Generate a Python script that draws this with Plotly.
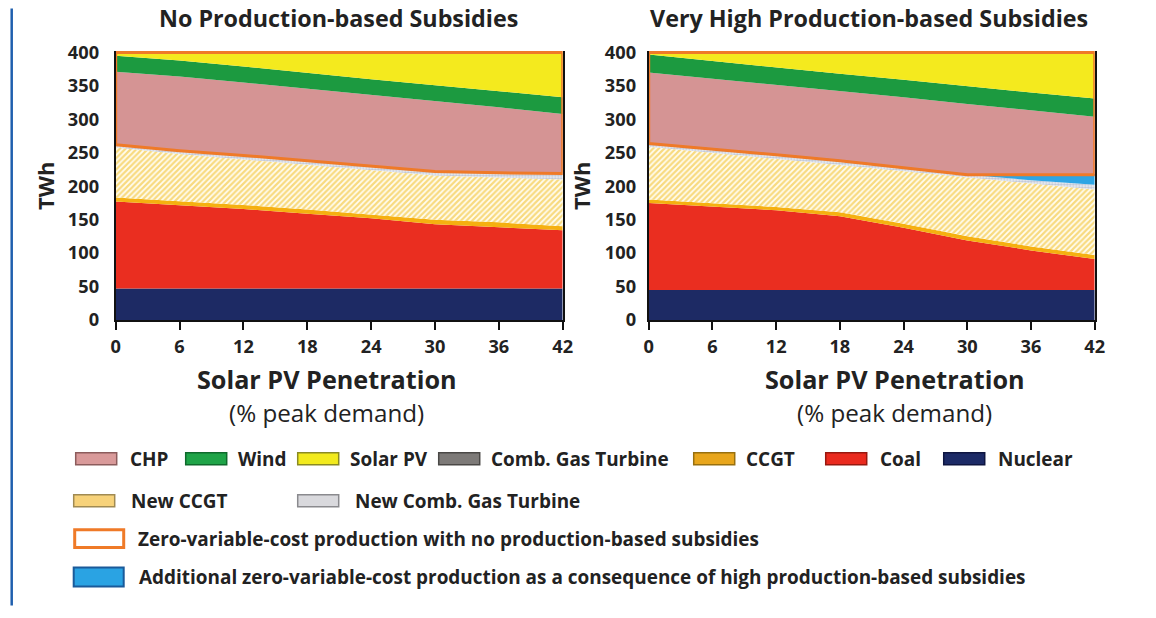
import numpy as np
import plotly.graph_objects as go

# Solar PV penetration (% of peak demand)
pv_pen = [0, 6, 12, 18, 24, 30, 36, 42]

# Generation by technology (TWh), stacked bottom to top
# -- No production-based subsidies
nuc_no = [47, 47, 47, 47, 47, 47, 47, 47]
coal_no = [130, 125, 119, 112, 105, 96, 92, 87]
ccgt_no = [6, 6, 6, 6, 6, 7, 7, 6]
cgt_no = [0, 0, 0, 0, 0, 0, 0, 0]
newccgt_no = [75, 70, 68, 67, 66, 66, 67, 70]
newcgt_no = [4, 5, 6, 6, 7, 6, 7, 9]
chp_no = [109, 111, 109, 108, 105, 105, 98, 89]
wind_no = [24, 24, 24, 23, 24, 24, 24, 25]
solar_no = [5, 12, 21, 31, 40, 49, 58, 67]

# -- Very high production-based subsidies
nuc_hi = [45, 45, 45, 45, 45, 45, 45, 45]
coal_hi = [130, 125, 119, 110, 93, 74, 59, 46]
ccgt_hi = [5, 5, 5, 6, 6, 6, 6, 6]
cgt_hi = [0, 0, 0, 0, 0, 0, 0, 0]
newccgt_hi = [79, 75, 72, 71, 78, 88, 94, 98]
newcgt_hi = [5, 6, 6, 6, 6, 4, 5, 7]
extra_zvc_hi = [0, 0, 0, 0, 0, 0, 8, 15]
chp_hi = [106, 105, 105, 104, 105, 106, 97, 87]
wind_hi = [27, 26, 26, 26, 26, 26, 26, 27]
solar_hi = [3, 13, 22, 32, 41, 51, 60, 69]

x_ticks = [0, 6, 12, 18, 24, 30, 36, 42]
y_ticks = [0, 50, 100, 150, 200, 250, 300, 350, 400]

COL = {
    "Nuclear": "#1d2a64",
    "Coal": "#ea2e20",
    "CCGT": "#f5b010",
    "Comb. Gas Turbine": "#7b7876",
    "New CCGT": "#f3c53a",
    "New Comb. Gas Turbine": "#c3c9d6",
    "Extra": "#2ea5e4",
    "CHP": "#d59494",
    "Wind": "#1c9a40",
    "Solar PV": "#f4ea1e",
    "Outline": "#ef7a28",
}

W, H = 1156, 618
FONT = "Open Sans"

# page-pixel -> figure-pixel mapping used for all placements
SX, OX = 0.987, 4.3
SY, OY = 0.966, 10.5


def lx(p):
    return (p - OX) / SX


def ly(p):
    return (p - OY) / SY


def fx(p):
    return lx(p) / W


def fy(p):
    return 1 - ly(p) / H


fig = go.Figure()


def add_panel(xa, ya, group, layers, extra=None):
    names = ["Nuclear", "Coal", "CCGT", "Comb. Gas Turbine", "New CCGT",
             "New Comb. Gas Turbine"]
    stack = list(zip(names, layers[:6]))
    if extra is not None:
        stack.append(("Extra", extra))
    stack += [("CHP", layers[6]), ("Wind", layers[7]), ("Solar PV", layers[8])]
    for name, v in stack:
        kw = dict(fillcolor=COL[name])
        if name == "New CCGT":
            kw = dict(fillcolor="#ffffff",
                      fillpattern=dict(shape="/", fgcolor="#f1b70c",
                                       bgcolor="#fffdf2", size=4,
                                       solidity=0.55))
        elif name == "New Comb. Gas Turbine":
            kw = dict(fillcolor="#ffffff",
                      fillpattern=dict(shape=".", fgcolor="#8e9ab4",
                                       bgcolor="#eef0f5", size=3,
                                       solidity=0.5))
        line = dict(width=0)
        if name == "Extra":
            line = dict(width=1.5, color="#1a5fa6")
        fig.add_trace(go.Scatter(
            x=pv_pen, y=v, stackgroup=group, mode="lines", line=line,
            name=name, showlegend=False, xaxis=xa, yaxis=ya, hoverinfo="skip",
            **kw))
    # outline of the zero-variable-cost region
    lower = [v for n, v in stack if n not in ("CHP", "Wind", "Solar PV")]
    base = np.sum(np.array(lower), axis=0)
    total = np.sum(np.array([v for _, v in stack]), axis=0)
    ox = list(pv_pen) + list(pv_pen[::-1]) + [pv_pen[0]]
    oy = list(base) + list(total[::-1]) + [base[0]]
    fig.add_trace(go.Scatter(
        x=ox, y=oy, mode="lines", line=dict(color=COL["Outline"], width=3),
        showlegend=False, xaxis=xa, yaxis=ya, hoverinfo="skip"))


add_panel("x", "y", "no",
          [nuc_no, coal_no, ccgt_no, cgt_no, newccgt_no, newcgt_no,
           chp_no, wind_no, solar_no])
add_panel("x2", "y2", "hi",
          [nuc_hi, coal_hi, ccgt_hi, cgt_hi, newccgt_hi, newcgt_hi,
           chp_hi, wind_hi, solar_hi], extra=extra_zvc_hi)

# plot area: value 0 sits at y=320, value 400 at y=52; range padded to 402
y_zero, y_400 = ly(320), ly(52)
top_px = y_zero - 402 * (y_zero - y_400) / 400
y_dom = [1 - y_zero / H, 1 - top_px / H]

tickfont = dict(family=FONT, size=18.2, color="#222", weight="bold")
xa_common = dict(range=[0, 42], tickvals=x_ticks, ticks="outside", ticklen=8,
                 tickwidth=2, tickcolor="#111", showline=True,
                 linecolor="#111", linewidth=2, showgrid=False, zeroline=False,
                 tickfont=tickfont, ticklabelstandoff=1)
ya_common = dict(range=[0, 402], tickvals=y_ticks, ticks="", showline=True,
                 mirror=True, linecolor="#111", linewidth=2, showgrid=False,
                 zeroline=False, tickfont=tickfont)

fig.update_layout(
    width=W, height=H, margin=dict(l=0, r=0, t=0, b=0),
    paper_bgcolor="white", plot_bgcolor="white", showlegend=False,
    xaxis=dict(domain=[fx(115), fx(562)], anchor="y", **xa_common),
    yaxis=dict(domain=y_dom, anchor="x", ticklabelstandoff=11, **ya_common),
    xaxis2=dict(domain=[fx(648), fx(1094)], anchor="y2", **xa_common),
    yaxis2=dict(domain=y_dom, anchor="x2", ticklabelstandoff=7, **ya_common),
)

annotations = []
shapes = []


def text(x, y, s, size, bold=True, xanchor="center", angle=0, color="#222"):
    annotations.append(dict(
        x=fx(x), y=fy(y), xref="paper", yref="paper", text=s, showarrow=False,
        xanchor=xanchor, yanchor="middle", textangle=angle,
        font=dict(family=FONT, size=size, color=color,
                  weight="bold" if bold else "normal")))


def rect(x0, y0, x1, y1, fill, color, width):
    shapes.append(dict(type="rect", xref="paper", yref="paper",
                       x0=fx(x0), x1=fx(x1), y0=fy(y1), y1=fy(y0),
                       fillcolor=fill, line=dict(color=color, width=width)))


# panel titles
text(338, 18, "No Production-based Subsidies", 23.3)
text(868, 18, "Very High Production-based Subsidies", 23.3)
# axis titles
for cx, tx in [(326, 45), (894, 580)]:
    text(cx, 379, "Solar PV Penetration", 25.2)
    text(cx, 413, "(% peak demand)", 24.2, bold=False)
    text(tx, 186, "TWh", 22, angle=-90)

# legend
legend_rows = [
    [("CHP", "#d99a9a", "#8c5c5c", 75, 127),
     ("Wind", "#1fa448", "#0f6a2c", 185, 235),
     ("Solar PV", "#f2ea1c", "#8a8a22", 297, 347),
     ("Comb. Gas Turbine", "#7d7a78", "#4a4846", 438, 488),
     ("CCGT", "#e8a61c", "#98700f", 693, 743),
     ("Coal", "#ea2a1e", "#98180f", 825, 877),
     ("Nuclear", "#1c2a66", "#0e1540", 943, 995)],
    [("New CCGT", "#f7d27a", "#a08a52", 73, 128),
     ("New Comb. Gas Turbine", "#d9d9dd", "#8a8a8e", 297, 352)],
]
row_y = [459, 501]
LEG = 18.95
for row, cy in zip(legend_rows, row_y):
    for label, fc, lc, sx, tx in row:
        rect(sx, cy - 6, sx + 41, cy + 6, fc, lc, 1.5)
        text(tx, cy, label, LEG, xanchor="left")

rect(74, 530, 123, 548, "white", COL["Outline"], 3)
text(135, 539, "Zero-variable-cost production with no production-based subsidies",
     LEG, xanchor="left")
rect(73, 568, 123, 587, "#2aa3e3", "#1a5a9a", 2)
text(136, 577, "Additional zero-variable-cost production as a consequence of "
     "high production-based subsidies", LEG, xanchor="left")

# page rule on the left
shapes.append(dict(type="line", xref="paper", yref="paper", x0=fx(11),
                   x1=fx(11), y0=fy(8), y1=fy(606),
                   line=dict(color="#1f5fae", width=2.5)))

fig.update_layout(annotations=annotations, shapes=shapes)
fig.write_html("out.html")
